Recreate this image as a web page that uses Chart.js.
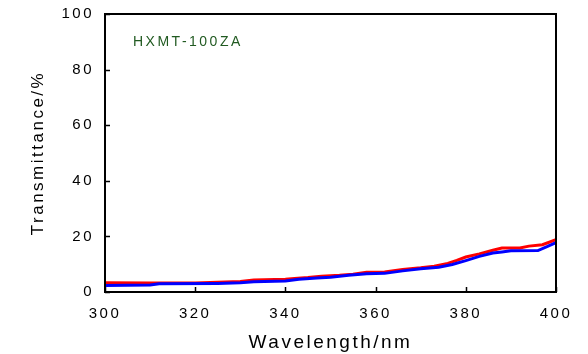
<!DOCTYPE html>
<html>
<head>
<meta charset="utf-8">
<script src="https://cdn.jsdelivr.net/npm/chart.js@4"></script>
<style>
    html, body { margin: 0; padding: 0; background: #ffffff; }
    #wrap { width: 588px; height: 354px; position: relative; }
</style>
</head>
<body>
<div id="wrap"><canvas id="transCanvasChart"></canvas></div>
<script>
// Wavelength (nm) and transmittance (%)
const redWavelengths = [300, 310, 320, 325, 330, 333, 340, 342, 345, 348, 352, 355, 358, 362, 366, 370, 373, 376, 378, 380, 383, 386, 388, 392, 394, 397, 400];
const redValues = [3.3, 3.2, 3.2, 3.5, 3.8, 4.3, 4.6, 4.9, 5.2, 5.7, 6.0, 6.4, 7.1, 7.2, 8.1, 8.7, 9.3, 10.3, 11.4, 12.6, 13.7, 15.0, 15.8, 15.8, 16.5, 17.0, 18.8];

const blueWavelengths = [300, 310, 312, 325, 330, 333, 340, 343, 347, 350, 354, 358, 362, 366, 370, 374, 377, 380, 383, 386, 388, 390, 396, 398, 400];
const blueValues = [2.3, 2.5, 3.0, 3.1, 3.3, 3.7, 4.0, 4.6, 5.0, 5.3, 6.0, 6.6, 6.7, 7.6, 8.4, 8.9, 9.9, 11.3, 12.8, 14.0, 14.4, 14.8, 14.9, 16.3, 17.8];

const xTicks = [300, 320, 340, 360, 380, 400];
const yTicks = [0, 20, 40, 60, 80, 100];
const sampleLabel = "HXMT-100ZA";

const toPoints = (xs, ys) => xs.map((x, i) => ({ x: x, y: ys[i] }));

// the original text is spaced out a bit
const SPACING = "2.5px";
const spacingPlugin = {
    id: "spacing",
    beforeUpdate(chart) { chart.ctx.letterSpacing = SPACING; },
    beforeDraw(chart) { chart.ctx.letterSpacing = SPACING; },
};

// frame + inward tick marks + sample label
const framePlugin = {
    id: "frame",
    afterDraw(chart) {
        const { ctx, chartArea: a, scales } = chart;
        ctx.save();
        ctx.strokeStyle = "#000000";
        ctx.lineWidth = 2;
        ctx.strokeRect(a.left, a.top, a.right - a.left, a.bottom - a.top);
        ctx.lineWidth = 1.5;
        ctx.beginPath();
        xTicks.forEach((v) => {
            const px = Math.round(scales.x.getPixelForValue(v)) + 0.5;
            ctx.moveTo(px, a.bottom);
            ctx.lineTo(px, a.bottom - 5);
        });
        yTicks.forEach((v) => {
            const py = Math.round(scales.y.getPixelForValue(v)) + 0.5;
            ctx.moveTo(a.left, py);
            ctx.lineTo(a.left + 5, py);
        });
        ctx.stroke();
        ctx.fillStyle = "#215A21";
        ctx.font = "14px 'Liberation Sans', Arial, sans-serif";
        ctx.letterSpacing = SPACING;
        ctx.textBaseline = "middle";
        ctx.fillText(sampleLabel, a.left + 28, a.top + 28);
        ctx.restore();
    },
};

const ctx = document.getElementById("transCanvasChart").getContext("2d");

new Chart(ctx, {
    type: "scatter",
    data: {
        datasets: [
            {
                label: "blue",
                data: toPoints(blueWavelengths, blueValues),
                borderColor: "#0000FF",
                backgroundColor: "#0000FF",
                borderWidth: 3,
                showLine: true,
                pointRadius: 0,
                tension: 0,
            },
            {
                label: "red",
                data: toPoints(redWavelengths, redValues),
                borderColor: "#FF0000",
                backgroundColor: "#FF0000",
                borderWidth: 3,
                showLine: true,
                pointRadius: 0,
                tension: 0,
            },
        ],
    },
    options: {
        responsive: true,
        maintainAspectRatio: false,
        animation: false,
        layout: {
            padding: { top: 14, right: 32, left: 0, bottom: 0 },
        },
        plugins: {
            legend: { display: false },
            tooltip: { enabled: false },
        },
        scales: {
            x: {
                type: "linear",
                min: 300,
                max: 400,
                afterFit: (scale) => { scale.height = 62; },
                afterBuildTicks: (scale) => { scale.ticks = xTicks.map((v) => ({ value: v })); },
                grid: { display: false, drawTicks: false, tickLength: 0 },
                border: { display: false },
                ticks: {
                    color: "#000000",
                    padding: 13,
                    font: { family: "'Liberation Sans', Arial", size: 15 },
                },
                title: {
                    display: true,
                    text: "Wavelength/nm",
                    color: "#000000",
                    font: { family: "'Liberation Sans', Arial", size: 19 },
                    padding: { top: 0, bottom: 0 },
                },
            },
            y: {
                min: 0,
                max: 100,
                afterFit: (scale) => {
                    scale.width = 105;
                    scale.paddingTop = 0;
                    scale.paddingBottom = 0;
                },
                afterBuildTicks: (scale) => { scale.ticks = yTicks.map((v) => ({ value: v })); },
                grid: { display: false, drawTicks: false, tickLength: 0 },
                border: { display: false },
                ticks: {
                    color: "#000000",
                    padding: 11,
                    font: { family: "'Liberation Sans', Arial", size: 15 },
                },
                title: {
                    display: true,
                    text: "Transmittance/%",
                    color: "#000000",
                    font: { family: "'Liberation Sans', Arial", size: 17 },
                    padding: { top: 28, bottom: 0 },
                },
            },
        },
    },
    plugins: [spacingPlugin, framePlugin],
});
</script>
</body>
</html>
